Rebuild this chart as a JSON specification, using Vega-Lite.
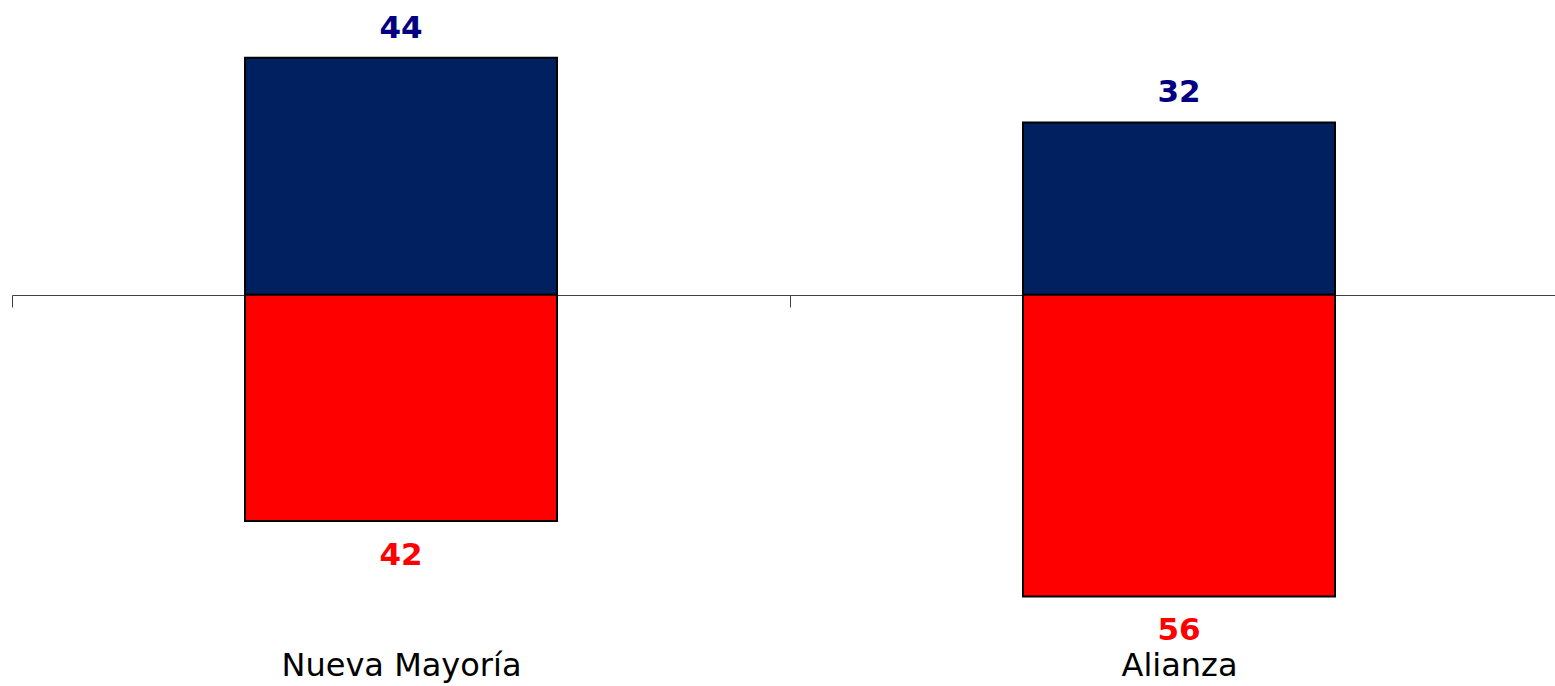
{
  "$schema": "https://vega.github.io/schema/vega-lite/v6.json",
  "width": 1556,
  "height": 614,
  "autosize": {"type": "none"},
  "padding": {"left": 12, "top": 4, "right": 0, "bottom": 68},
  "background": "white",
  "config": {"view": {"stroke": null}},
  "data": {
    "values": [
      {"party": "Nueva Mayoría", "side": "pos", "value": 44, "pct": 44},
      {"party": "Nueva Mayoría", "side": "neg", "value": -42, "pct": 42},
      {"party": "Alianza", "side": "pos", "value": 32, "pct": 32},
      {"party": "Alianza", "side": "neg", "value": -56, "pct": 56}
    ]
  },
  "encoding": {
    "x": {
      "field": "party",
      "type": "nominal",
      "scale": {"domain": ["Nueva Mayoría", "Alianza"], "paddingInner": 0.599, "paddingOuter": 0.2995},
      "axis": {
        "orient": "bottom",
        "offset": -323,
        "title": null,
        "ticks": true,
        "tickOffset": -389,
        "tickSize": 12,
        "tickColor": "#404040",
        "tickOpacity": 1,
        "domainColor": "#404040",
        "domainWidth": 1,
        "tickWidth": 1,
        "labelFont": "DejaVu Sans",
        "labelFontSize": 32,
        "labelColor": "black",
        "labelBaseline": "alphabetic",
        "labelPadding": 368,
        "labelOffset": 389,
        "labelLimit": 600,
        "labelFlush": false,
        "labelBound": false,
        "labelOverlap": false,
        "labelAngle": 0
      }
    },
    "y": {
      "field": "value",
      "type": "quantitative",
      "scale": {"domain": [-60, 54], "nice": false, "zero": false},
      "axis": null
    }
  },
  "layer": [
    {
      "mark": {"type": "bar", "stroke": "black", "strokeWidth": 2},
      "encoding": {
        "color": {
          "field": "side",
          "type": "nominal",
          "scale": {"domain": ["pos", "neg"], "range": ["#002060", "#FF0000"]},
          "legend": null
        }
      }
    },
    {
      "transform": [{"filter": "datum.side === 'pos'"}],
      "mark": {"type": "text", "baseline": "alphabetic", "dy": -20, "font": "DejaVu Sans", "fontWeight": "bold", "fontSize": 31, "color": "#000080"},
      "encoding": {
        "text": {"field": "pct", "type": "quantitative"}
      }
    },
    {
      "transform": [{"filter": "datum.side === 'neg'"}],
      "mark": {"type": "text", "baseline": "alphabetic", "dy": 44, "font": "DejaVu Sans", "fontWeight": "bold", "fontSize": 31, "color": "#FF0000"},
      "encoding": {
        "text": {"field": "pct", "type": "quantitative"}
      }
    }
  ]
}
